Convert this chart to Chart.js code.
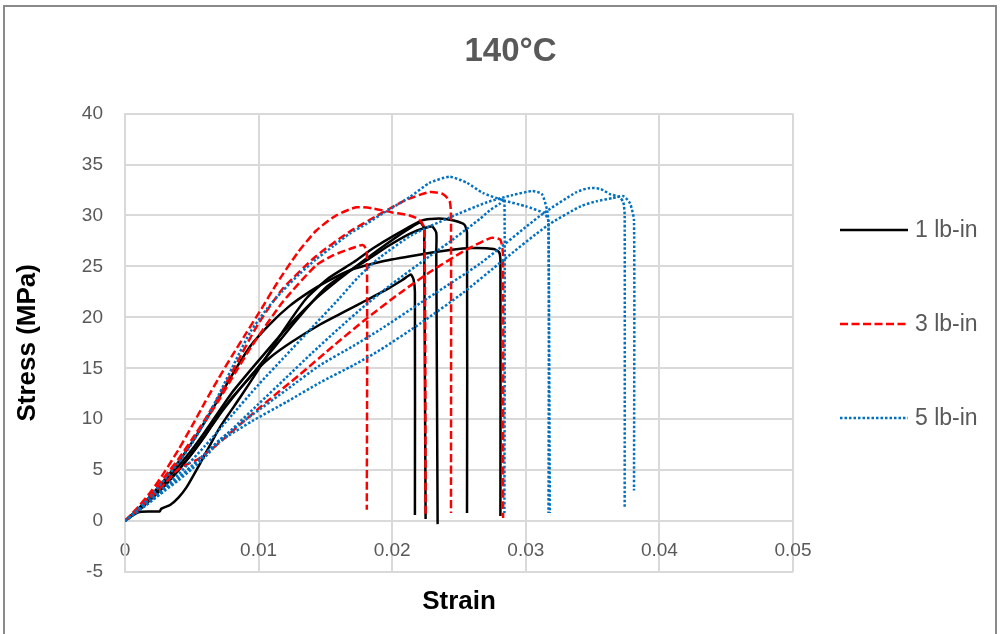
<!DOCTYPE html>
<html>
<head>
<meta charset="utf-8">
<title>140°C</title>
<script src="https://cdn.jsdelivr.net/npm/chart.js@4.4.1/dist/chart.umd.min.js"></script>
<style>
  html, body { margin: 0; padding: 0; background: #fff; }
  #frame { position: absolute; left: 3px; top: 5px; width: 994px; height: 650px; border: 2px solid #8a8a8a; box-sizing: border-box; }
  #wrap { position: absolute; left: 0; top: 0; width: 1001px; height: 634px; }
</style>
</head>
<body>
<div id="frame"></div>
<div id="wrap"><canvas id="chart" width="1001" height="634"></canvas></div>
<script>
/* stress-strain curves at 140°C, three torque levels, [strain, stress MPa] */

const X_TICKS = [0, 0.01, 0.02, 0.03, 0.04, 0.05];
const Y_TICKS = [-5, 0, 5, 10, 15, 20, 25, 30, 35, 40];
const SERIES_NAMES = ["1 lb-in", "3 lb-in", "5 lb-in"];

// 1 lb-in (black, solid)
const black1 = [[0,0],[0.001,1.0],[0.002,2.2],[0.003,3.5],[0.004,5.0],[0.005,6.6],[0.006,8.4],[0.007,10.3],[0.008,12.0],[0.009,13.6],[0.0099,14.9],[0.011,16.2],[0.0125,17.6],[0.0146,19.3],[0.0165,20.6],[0.0181,21.7],[0.0198,22.9],[0.0208,23.7],[0.0214,24.2],[0.0216,23.7],[0.0217,22.5],[0.0217,0.6]];
const black2 = [[0,0],[0.001,1.2],[0.002,2.5],[0.003,3.9],[0.004,5.4],[0.005,7.0],[0.006,8.8],[0.007,10.7],[0.008,12.6],[0.0099,15.6],[0.012,18.8],[0.014,21.5],[0.016,23.7],[0.018,25.7],[0.020,27.6],[0.0215,28.9],[0.0221,29.3],[0.0224,28.7],[0.0224,27.5],[0.0225,0.2]];
const black3 = [[0,0],[0.001,1.1],[0.002,2.3],[0.003,3.6],[0.004,5.0],[0.005,6.6],[0.006,8.4],[0.007,10.4],[0.008,12.1],[0.009,13.6],[0.0099,15.0],[0.0112,17.1],[0.0125,19.2],[0.0138,21.2],[0.0151,23.0],[0.0166,24.4],[0.0181,25.6],[0.0197,27.0],[0.0213,28.2],[0.0225,28.8],[0.0230,28.9],[0.0233,28.3],[0.0233,26.5],[0.0234,-0.3]];
const black4 = [[0,0],[0.0005,0.5],[0.0011,0.9],[0.0026,0.95],[0.0027,1.2],[0.0034,1.6],[0.004,2.3],[0.0046,3.3],[0.0056,5.6],[0.0071,9.2],[0.0086,12.1],[0.0100,14.9],[0.0118,18.6],[0.0136,21.9],[0.0153,23.9],[0.0171,25.4],[0.0186,26.8],[0.0201,28.0],[0.0222,29.5],[0.0235,29.7],[0.0246,29.5],[0.0254,29.1],[0.0256,28.3],[0.0256,0.8]];
const black5 = [[0,0],[0.001,1.2],[0.002,2.6],[0.003,4.1],[0.004,5.8],[0.005,7.7],[0.006,9.8],[0.007,12.0],[0.008,14.3],[0.0094,17.2],[0.0109,19.4],[0.0123,21.1],[0.0138,22.5],[0.0151,23.5],[0.0168,24.6],[0.0193,25.5],[0.0218,26.1],[0.0243,26.6],[0.0260,26.8],[0.0276,26.7],[0.0280,26.4],[0.0281,25.5],[0.0281,0.5]];

// 3 lb-in (red, dashed)
const red1 = [[0,0],[0.001,1.4],[0.002,3.0],[0.003,4.9],[0.004,7.0],[0.005,9.3],[0.006,11.7],[0.007,14.0],[0.008,16.2],[0.009,18.3],[0.0101,20.6],[0.0114,23.4],[0.0129,26.3],[0.0143,28.5],[0.0158,30.0],[0.0173,30.8],[0.0185,30.7],[0.0200,30.3],[0.0213,30.0],[0.0220,29.6],[0.0224,28.8],[0.0225,0.4]];
const red2 = [[0,0],[0.001,1.3],[0.002,2.8],[0.003,4.4],[0.004,6.1],[0.005,8.0],[0.006,10.0],[0.007,12.2],[0.008,14.6],[0.0099,19.2],[0.0118,22.8],[0.0143,26.0],[0.0168,28.4],[0.0193,30.3],[0.0210,31.5],[0.0228,32.3],[0.0238,32.1],[0.0243,31.4],[0.0244,30.0],[0.0244,0.8]];
const red3 = [[0,0],[0.001,1.2],[0.002,2.6],[0.003,4.2],[0.004,5.9],[0.005,7.8],[0.006,9.8],[0.007,11.8],[0.008,14.0],[0.0094,17.0],[0.0118,21.5],[0.0143,25.1],[0.0156,26.1],[0.0168,26.7],[0.0178,27.1],[0.0181,26.5],[0.0181,1.1]];
const red4 = [[0,0],[0.001,1.1],[0.002,2.4],[0.003,3.7],[0.0039,5.0],[0.0047,5.6],[0.0055,6.1],[0.0068,7.4],[0.0081,8.9],[0.0105,11.6],[0.0131,14.4],[0.0156,17.2],[0.0181,19.9],[0.0206,22.4],[0.0230,24.6],[0.0255,26.6],[0.0274,27.8],[0.0281,27.6],[0.0283,26.0],[0.0283,0.3]];

// 5 lb-in (blue, dotted)
const blue1 = [[0,0],[0.001,1.2],[0.002,2.6],[0.003,4.1],[0.004,5.7],[0.005,7.6],[0.006,9.8],[0.0071,12.6],[0.0083,15.8],[0.0094,18.6],[0.0106,20.8],[0.0118,22.6],[0.0131,24.3],[0.0143,25.7],[0.0156,27.0],[0.0168,28.2],[0.0181,29.2],[0.0193,30.2],[0.0213,31.8],[0.0228,33.2],[0.0243,33.8],[0.0256,33.2],[0.0268,32.2],[0.0283,31.5],[0.0300,30.9],[0.0314,30.2],[0.0317,29.4],[0.0317,0.8]];
const blue2 = [[0,0],[0.002,2.2],[0.004,4.6],[0.006,7.4],[0.008,10.4],[0.010,13.4],[0.012,16.2],[0.014,19.0],[0.016,21.8],[0.0175,24.0],[0.0191,25.9],[0.0215,28.1],[0.0243,29.8],[0.0271,31.3],[0.0290,32.0],[0.0305,32.4],[0.0312,32.1],[0.0316,30.5],[0.0317,29.0],[0.0318,0.8]];
const blue3 = [[0,0],[0.002,2.0],[0.004,4.2],[0.006,6.6],[0.008,9.0],[0.010,11.5],[0.012,14.0],[0.014,16.5],[0.016,18.9],[0.018,21.2],[0.020,23.3],[0.0228,26.0],[0.0243,27.4],[0.0266,29.7],[0.0273,30.5],[0.0281,31.2],[0.0284,31.6],[0.0284,0.8]];
const blue4 = [[0,0],[0.001,1.0],[0.002,2.1],[0.003,3.2],[0.004,4.3],[0.005,5.4],[0.006,6.6],[0.0071,8.0],[0.0095,10.4],[0.0121,12.9],[0.0146,15.3],[0.0171,17.2],[0.0191,18.8],[0.0221,21.4],[0.0266,25.3],[0.0311,30.0],[0.0338,32.3],[0.0348,32.7],[0.0356,32.6],[0.0363,32.1],[0.0370,31.8],[0.0373,31.3],[0.0374,30.0],[0.0374,1.3]];
const blue5 = [[0,0],[0.001,1.0],[0.002,2.0],[0.003,3.0],[0.004,4.0],[0.005,5.1],[0.006,6.3],[0.0071,7.8],[0.0095,9.8],[0.0121,11.7],[0.0146,13.6],[0.0171,15.3],[0.0191,16.8],[0.0221,19.4],[0.0253,22.4],[0.0283,25.6],[0.0316,29.0],[0.0341,30.9],[0.0353,31.4],[0.0365,31.7],[0.0373,31.9],[0.0378,31.2],[0.0381,29.5],[0.0381,3.0]];

const STYLES = {
  "1 lb-in": { color: "#000000", dash: [], width: 2.5, order: 3 },
  "3 lb-in": { color: "#FF0000", dash: [8, 3.5], width: 2.5, order: 2 },
  "5 lb-in": { color: "#0070C0", dash: [2.5, 2], width: 2.5, order: 1 },
};

const GROUPS = [
  { name: "1 lb-in", curves: [black1, black2, black3, black4, black5] },
  { name: "3 lb-in", curves: [red1, red2, red3, red4] },
  { name: "5 lb-in", curves: [blue1, blue2, blue3, blue4, blue5] },
];

const GRAY = "#595959";
const GRID = "#d9d9d9";
const FONT = "'Liberation Sans', Arial, sans-serif";

function toPoints(curve) {
  return curve.map(([x, y]) => ({ x, y }));
}

const datasets = [];
GROUPS.forEach((g) => {
  const st = STYLES[g.name];
  g.curves.forEach((c) => {
    datasets.push({
      label: g.name,
      data: toPoints(c),
      borderColor: st.color,
      borderWidth: st.width,
      borderDash: st.dash,
      borderCapStyle: "butt",
      borderJoinStyle: "round",
      pointRadius: 0,
      tension: 0.2,
      fill: false,
      order: st.order,
    });
  });
});

// legend drawn in the right margin, one entry per torque level
const sideLegend = {
  id: "sideLegend",
  afterDraw(chart) {
    const ctx = chart.ctx;
    ctx.save();
    SERIES_NAMES.forEach((name, i) => {
      const st = STYLES[name];
      const y = 230 + i * 94;
      ctx.strokeStyle = st.color;
      ctx.lineWidth = st.width;
      ctx.setLineDash(st.dash);
      ctx.lineCap = "butt";
      ctx.beginPath();
      ctx.moveTo(840, y);
      ctx.lineTo(908, y);
      ctx.stroke();
      ctx.setLineDash([]);
      ctx.fillStyle = GRAY;
      ctx.font = `23px ${FONT}`;
      ctx.textBaseline = "middle";
      ctx.textAlign = "left";
      ctx.fillText(name, 915, y + 1);
    });
    ctx.restore();
  },
};

new Chart(document.getElementById("chart"), {
  type: "line",
  data: { datasets },
  plugins: [sideLegend],
  options: {
    responsive: false,
    animation: false,
    events: [],
    layout: { padding: { left: 20, right: 0, top: 0, bottom: 62 } },
    plugins: {
      legend: { display: false },
      tooltip: { enabled: false },
      title: {
        display: true,
        text: "140°C",
        color: GRAY,
        font: { family: FONT, size: 33, weight: "bold" },
        padding: { top: 32, bottom: 42 },
      },
    },
    scales: {
      x: {
        type: "linear",
        position: { y: 0 },
        min: 0,
        max: 0.05,
        afterBuildTicks: (s) => { s.ticks = X_TICKS.map((v) => ({ value: v })); },
        ticks: {
          color: GRAY,
          font: { family: FONT, size: 19 },
          padding: 18,
          maxRotation: 0,
          callback: (v) => (v === 0 ? "0" : Number(v).toFixed(2)),
        },
        grid: { color: GRID, lineWidth: 2, drawTicks: false },
        border: { color: GRID, width: 2 },
        title: {
          display: true,
          text: "Strain",
          color: "#000",
          font: { family: FONT, size: 26, weight: "bold" },
          padding: { top: 6, bottom: 0 },
        },
      },
      y: {
        type: "linear",
        min: -5,
        max: 40,
        afterBuildTicks: (s) => { s.ticks = Y_TICKS.map((v) => ({ value: v })); },
        afterFit: (s) => { s.width = 105; },
        ticks: {
          color: GRAY,
          font: { family: FONT, size: 19 },
          padding: 22,
        },
        grid: { color: GRID, lineWidth: 2, drawTicks: false },
        border: { color: GRID, width: 2 },
        title: {
          display: true,
          text: "Stress (MPa)",
          color: "#000",
          font: { family: FONT, size: 26, weight: "bold" },
          padding: { top: -8, bottom: 0 },
        },
      },
      // empty right-hand axis that only reserves room for the legend
      legendRoom: {
        type: "linear",
        position: "right",
        display: true,
        afterFit: (s) => { s.width = 208; },
        ticks: { display: false },
        grid: { display: false, drawOnChartArea: false },
        border: { display: false },
      },
    },
  },
});
</script>
</body>
</html>
